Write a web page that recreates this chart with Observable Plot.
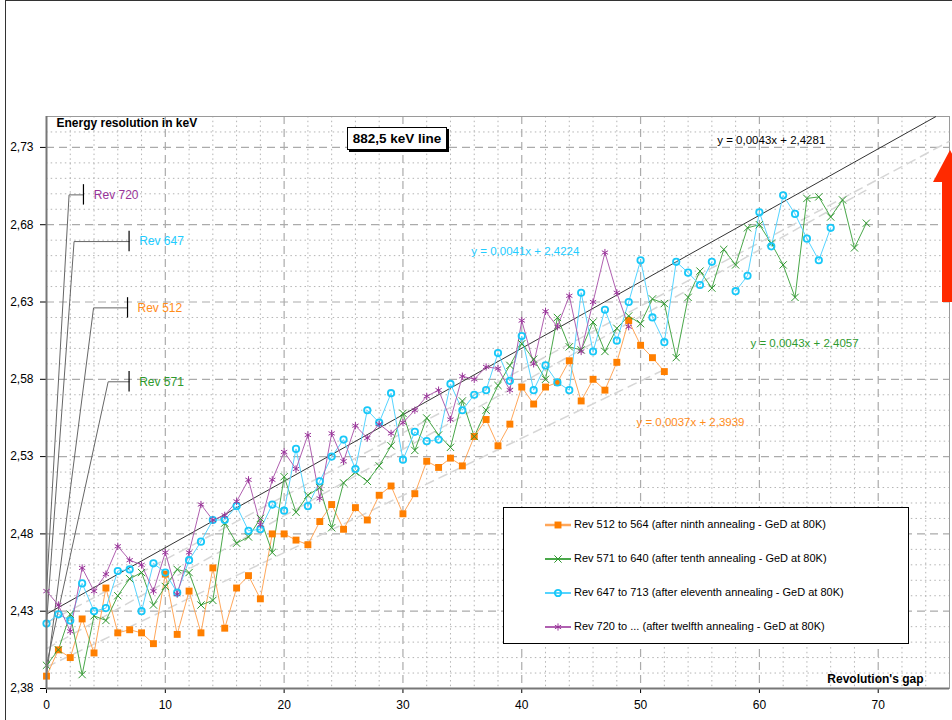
<!DOCTYPE html>
<html>
<head>
<meta charset="utf-8">
<script src="https://cdn.jsdelivr.net/npm/d3@7"></script>
<script src="https://cdn.jsdelivr.net/npm/@observablehq/plot@0.6"></script>
<style>
  html, body { margin: 0; padding: 0; background: #fff; overflow: hidden; }
  body { font-family: "Liberation Sans", Arial, sans-serif; }
  #wrap { position: relative; width: 952px; height: 720px; overflow: hidden; }
  #wrap > svg { position: absolute; left: 0; top: 0; }
  #outer { position: absolute; left: 5px; top: 0px; width: 960px; height: 730px; border-left: 1.5px solid #333; border-top: 1px solid #333; pointer-events: none; }
  #title { position: absolute; left: 347px; top: 127px; width: 98px; height: 21px; border: 1px solid #000; box-shadow: 2px 2px 0 #000; background: #fff; font-weight: bold; font-size: 13.5px; line-height: 21px; text-align: center; }
  #legend { position: absolute; left: 503px; top: 507px; width: 404px; height: 135px; border: 1px solid #000; background: #fff; }
  .lrow { position: absolute; left: 0; height: 20px; }
  .lrow svg { position: absolute; left: 41px; top: 0; }
  .lrow span { position: absolute; left: 70px; top: 3px; font-size: 11px; white-space: nowrap; color: #000; }
  #arrow { position: absolute; left: 0; top: 0; }
</style>
</head>
<body>
<div id="wrap"></div>
<script>
// ---------- data ----------
const orangeValues = [2.388,2.405,2.400,2.425,2.403,2.445,2.416,2.418,2.416,2.409,
  2.454,2.415,2.443,2.416,2.458,2.419,2.445,2.453,2.438,2.480,
  2.480,2.476,2.473,2.488,2.499,2.483,2.497,2.489,2.505,2.511,
  2.493,2.506,2.527,2.523,2.529,2.524,2.543,2.554,2.537,2.551,
  2.575,2.564,2.575,2.578,2.592,2.566,2.580,2.573,2.591,2.618,
  2.602,2.594,2.585];
const greenValues = [2.395,2.405,2.428,2.389,2.427,2.424,2.440,2.451,2.455,2.434,
  2.446,2.457,2.455,2.434,2.437,2.487,2.474,2.478,2.490,2.468,
  2.517,2.494,2.505,2.510,2.484,2.513,2.520,2.514,2.524,2.537,
  2.558,2.534,2.555,2.544,2.536,2.566,2.543,2.560,2.576,2.589,
  2.603,2.593,2.580,2.620,2.601,2.599,2.617,2.598,2.613,2.621,
  2.616,2.632,2.629,2.594,2.633,2.650,2.639,2.664,2.654,2.678,
  2.680,2.668,2.654,2.633,2.697,2.698,2.685,2.696,2.665,2.681];
const cyanValues = [2.422,2.428,2.424,2.448,2.430,2.432,2.456,2.457,2.430,2.461,
  2.455,2.442,2.463,2.475,2.489,2.489,2.498,2.482,2.483,2.499,
  2.495,2.535,2.498,2.514,2.530,2.541,2.522,2.560,2.552,2.571,
  2.528,2.546,2.540,2.541,2.577,2.560,2.570,2.573,2.597,2.579,
  2.608,2.573,2.589,2.578,2.573,2.636,2.598,2.625,2.605,2.630,
  2.657,2.620,2.604,2.656,2.649,2.641,2.656,null,2.637,2.647,
  2.688,2.666,2.699,2.687,2.671,2.657,2.678];
const purpleValues = [2.443,2.434,2.417,2.458,2.443,2.454,2.472,2.463,2.460,2.443,
  2.468,2.441,2.468,2.499,2.489,2.492,2.501,2.515,2.486,2.515,
  2.533,2.522,2.544,2.503,2.545,2.527,2.550,2.542,2.551,2.545,
  2.552,2.560,2.569,2.573,2.554,2.582,2.580,2.588,2.587,2.573,
  2.618,2.590,2.624,2.614,2.634,2.598,2.630,2.662,2.636,2.614];

const seriesNames = [
  "Rev 512 to 564 (after ninth annealing - GeD at 80K)",
  "Rev 571 to 640 (after tenth annealing - GeD at 80K)",
  "Rev 647 to 713 (after eleventh annealing - GeD at 80K)",
  "Rev 720 to ... (after twelfth annealing - GeD at 80K)"
];
const calloutLabels = ["Rev 512", "Rev 571", "Rev 647", "Rev 720"];
const trendSlopes = [0.0037, 0.0043, 0.0041, 0.0043];
const trendIntercepts = [2.3939, 2.4057, 2.4224, 2.4281];
const trendLabels = ["y = 0,0037x + 2,3939", "y = 0,0043x + 2,4057", "y = 0,0041x + 2,4224", "y = 0,0043x + 2,4281"];
const xTickValues = [0, 10, 20, 30, 40, 50, 60, 70];
const yTickValues = [2.38, 2.43, 2.48, 2.53, 2.58, 2.63, 2.68, 2.73];

// ---------- styles ----------
const allValues = [orangeValues, greenValues, cyanValues, purpleValues];
const lineColors = ["#ffa75a", "#4aa84a", "#55d4ff", "#b060b0"];
const markColors = ["#ff7f00", "#2e962e", "#18c8f8", "#993399"];
const textColors = ["#ff8c1a", "#2e9a2e", "#22ccff", "#993399"];
const symbols = ["square", "times", "circle", "asterisk"];
const trendEnds = [52, 69, 76, 76];

const X0 = 0, X1 = 76, Y0 = 2.38, Y1 = 2.75;

const rows = allValues.map((vals, s) => vals.map((y, x) => ({x, y, s})));

// grid positions
const xMinor = d3.range(2, 77, 2).filter(d => d % 10 !== 0);
const xMajor = d3.range(10, 77, 10);
const yMinor = d3.range(1, 38).filter(i => i % 5 !== 0).map(i => +(Y0 + i * 0.01).toFixed(2));
const yMajor = d3.range(1, 8).map(i => +(Y0 + i * 0.05).toFixed(2));

// trend lines
const trends = trendSlopes.map((m, i) => {
  const b = trendIntercepts[i];
  let x2 = trendEnds[i];
  if (m * x2 + b > Y1) x2 = (Y1 - b) / m;
  return {i, x1: 0, y1: b, x2, y2: m * x2 + b};
});

// callouts (annotation layout, in data units)
const callouts = [
  {s: 3, ex: 1.90, ey: 2.6993, bx: 3.11, tx: 3.98},
  {s: 2, ex: 2.32, ey: 2.6691, bx: 6.95, tx: 7.80},
  {s: 0, ex: 3.96, ey: 2.6262, bx: 6.82, tx: 7.66},
  {s: 1, ex: 5.19, ey: 2.5784, bx: 6.95, tx: 7.80}
];
const calloutPaths = callouts.flatMap(c => [
  {k: c.s, x: 0, y: allValues[c.s][0]},
  {k: c.s, x: c.ex, y: c.ey},
  {k: c.s, x: c.bx, y: c.ey}
]);
const eqPos = [
  {x: 54.2, y: 2.552},
  {x: 63.8, y: 2.6035},
  {x: 40.3, y: 2.6625},
  {x: 61.0, y: 2.7343}
];
const eqColors = ["#ff8c1a", "#2e9a2e", "#22ccff", "#000000"];

const marks = [
  Plot.ruleX(xMinor, {stroke: "#b4b4b4", strokeWidth: 1, strokeDasharray: "1.5,3.2"}),
  Plot.ruleY(yMinor, {stroke: "#b4b4b4", strokeWidth: 1, strokeDasharray: "1.5,3.2"}),
  Plot.ruleX(xMajor, {stroke: "#ababab", strokeWidth: 1.2, strokeDasharray: "8,5"}),
  Plot.ruleY(yMajor, {stroke: "#ababab", strokeWidth: 1.2, strokeDasharray: "8,5"}),
  Plot.frame({stroke: "#9a9a9a", strokeWidth: 1}),
  // grey dashed trend lines (orange, green, cyan)
  Plot.link(trends.filter(t => t.i < 3), {x1: "x1", y1: "y1", x2: "x2", y2: "y2", stroke: "#d6d6d6", strokeWidth: 1.5, strokeDasharray: "10,5"}),
  // black trend line (purple series)
  Plot.link(trends.filter(t => t.i === 3), {x1: "x1", y1: "y1", x2: "x2", y2: "y2", stroke: "#333", strokeWidth: 1}),
  // callout leader lines
  Plot.line(calloutPaths, {x: "x", y: "y", z: "k", stroke: "#666", strokeWidth: 1}),
  Plot.ruleX(callouts, {x: "bx", y1: d => d.ey - 0.0066, y2: d => d.ey + 0.0066, stroke: "#000", strokeWidth: 1.2})
];

// series
for (let s = 0; s < 4; s++) {
  marks.push(Plot.line(rows[s], {x: "x", y: "y", stroke: lineColors[s], strokeWidth: 1}));
}
for (let s = 0; s < 4; s++) {
  const sym = symbols[s];
  if (sym === "square") {
    marks.push(Plot.dot(rows[s], {x: "x", y: "y", symbol: "square", r: 3.9, fill: markColors[s], stroke: "none"}));
  } else if (sym === "circle") {
    marks.push(Plot.dot(rows[s], {x: "x", y: "y", symbol: "circle", r: 3.2, fill: "none", stroke: markColors[s], strokeWidth: 1.8}));
  } else {
    marks.push(Plot.dot(rows[s], {x: "x", y: "y", symbol: sym, r: 3.4, fill: "none", stroke: markColors[s], strokeWidth: 1}));
  }
}

// axes lines
marks.push(Plot.ruleX([X0], {stroke: "#777", strokeWidth: 2}));
marks.push(Plot.ruleY([Y0], {stroke: "#777", strokeWidth: 2}));

// texts
for (const c of callouts) {
  marks.push(Plot.text([calloutLabels[c.s]], {x: () => c.tx, y: () => c.ey, textAnchor: "start", fill: textColors[c.s], fontSize: 12}));
}
for (let i = 0; i < 4; i++) {
  marks.push(Plot.text([trendLabels[i]], {x: () => eqPos[i].x, y: () => eqPos[i].y, textAnchor: "middle", fill: eqColors[i], fontSize: 11.5}));
}
marks.push(Plot.text(["Energy resolution in keV"], {frameAnchor: "top-left", dx: 10, dy: 2, lineAnchor: "top", textAnchor: "start", fontWeight: "bold", fontSize: 12}));
marks.push(Plot.text(["Revolution's gap"], {frameAnchor: "bottom-right", dx: -26, dy: -6, lineAnchor: "bottom", textAnchor: "end", fontWeight: "bold", fontSize: 12}));

const chart = Plot.plot({
  width: 952,
  height: 720,
  marginLeft: 46,
  marginRight: 3,
  marginTop: 116,
  marginBottom: 32,
  style: {fontFamily: "'Liberation Sans', Arial, sans-serif", fontSize: "12px", color: "#000", background: "transparent"},
  x: {domain: [X0, X1], ticks: xTickValues, tickSize: 5, tickPadding: 7, label: null},
  y: {domain: [Y0, Y1], ticks: yTickValues, tickSize: 6, tickPadding: 7, label: null, tickFormat: d => d.toFixed(2).replace(".", ",")},
  marks
});

const wrap = document.getElementById("wrap");
wrap.appendChild(chart);

// outer chart border
const outer = document.createElement("div");
outer.id = "outer";
wrap.appendChild(outer);

// title box
const title = document.createElement("div");
title.id = "title";
title.textContent = "882,5 keV line";
wrap.appendChild(title);

// legend
const legend = document.createElement("div");
legend.id = "legend";
const rowTops = [7, 41, 75, 109];
seriesNames.forEach((name, s) => {
  const row = document.createElement("div");
  row.className = "lrow";
  row.style.top = rowTops[s] + "px";
  row.style.width = "400px";
  const sym = {square: d3.symbolSquare, times: d3.symbolTimes, circle: d3.symbolCircle, asterisk: d3.symbolAsterisk}[symbols[s]];
  const size = symbols[s] === "square" ? 48 : symbols[s] === "circle" ? 32 : 36;
  const path = d3.symbol(sym, size)();
  const fill = symbols[s] === "square" ? markColors[s] : "none";
  const stroke = symbols[s] === "square" ? "none" : markColors[s];
  const sw = symbols[s] === "circle" ? 1.8 : 1;
  row.innerHTML = `<svg width="26" height="20"><line x1="0" y1="10" x2="26" y2="10" stroke="${lineColors[s]}" stroke-width="${s === 0 ? 2.5 : 2}"/><path d="${path}" transform="translate(13,10)" fill="${fill}" stroke="${stroke}" stroke-width="${sw}"/></svg><span>${name}</span>`;
  legend.appendChild(row);
});
wrap.appendChild(legend);

// red arrow (decoration at right edge)
const arrow = d3.select(wrap).append("svg").attr("id", "arrow").attr("width", 952).attr("height", 720);
arrow.append("polygon")
  .attr("points", "950,150 933,182 942,182 942,302 958,302 958,182 967,182")
  .attr("fill", "#ff2a00");
</script>
</body>
</html>
